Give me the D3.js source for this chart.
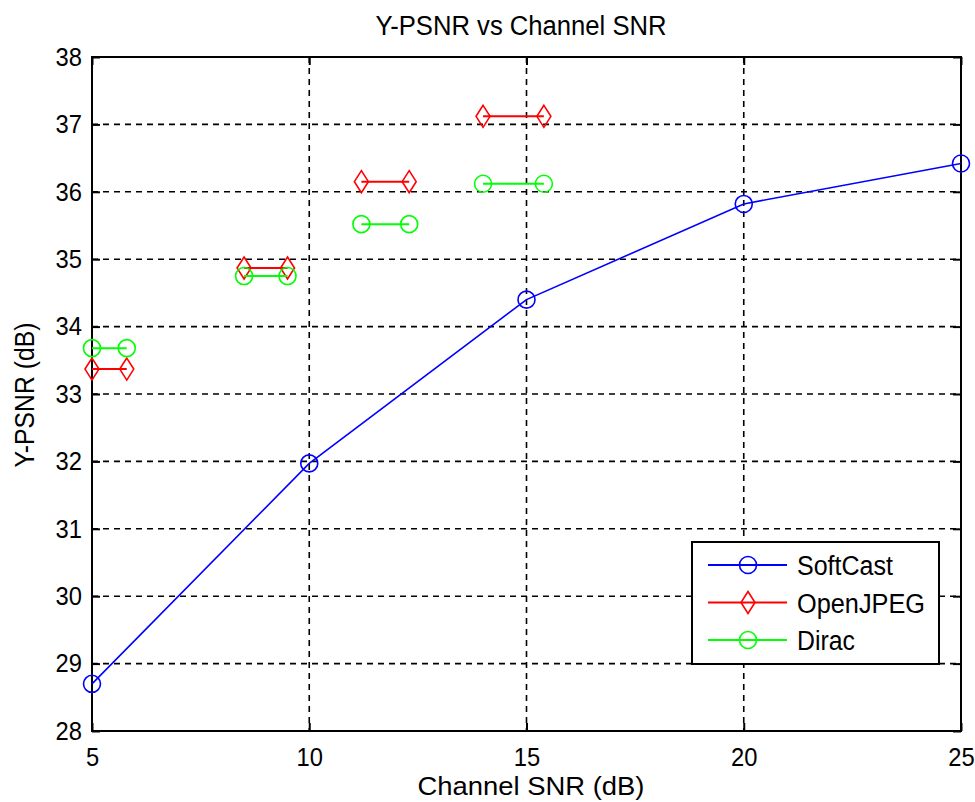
<!DOCTYPE html>
<html>
<head>
<meta charset="utf-8">
<script src="https://cdn.jsdelivr.net/npm/d3@7"></script>
<style>
  body { margin: 0; background: #fff; }
  text { font-family: "Liberation Sans", Arial, sans-serif; }
</style>
</head>
<body>
<svg id="chart" width="975" height="802"></svg>
<script>
// data
const snr = [5, 10, 15, 20, 25];
const softcast = [28.7, 31.97, 34.4, 35.82, 36.42];

// each codec is plotted as short horizontal segments (start, end, psnr)
const segStart = [5, 8.5, 11.2, 14];
const segEnd = [5.8, 9.5, 12.3, 15.4];
const openjpeg = [33.37, 34.87, 36.15, 37.12];
const dirac = [33.68, 34.75, 35.52, 36.12];

const xTicks = [5, 10, 15, 20, 25];
const yTicks = [28, 29, 30, 31, 32, 33, 34, 35, 36, 37, 38];

const series = [
  { name: "SoftCast", color: "#0000ff", marker: "circle" },
  { name: "OpenJPEG", color: "#ff0000", marker: "diamond" },
  { name: "Dirac", color: "#00ff00", marker: "circle" }
];

const svg = d3.select("#chart");
const m = { left: 92, top: 57, right: 961, bottom: 731 };

const x = d3.scaleLinear().domain([5, 25]).range([m.left, m.right]);
const y = d3.scaleLinear().domain([28, 38]).range([m.bottom, m.top]);

// the original text is a bit condensed, so squeeze it to the measured widths
function fit(sel, w) {
  sel.attr("textLength", w).attr("lengthAdjust", "spacingAndGlyphs");
}

// grid
const grid = svg.append("g");
xTicks.forEach(t => {
  grid.append("line")
    .attr("x1", x(t)).attr("x2", x(t))
    .attr("y1", m.top).attr("y2", m.bottom)
    .attr("stroke", "#000").attr("stroke-width", 1.6)
    .attr("stroke-dasharray", "6,5");
});
yTicks.forEach(t => {
  grid.append("line")
    .attr("x1", m.left).attr("x2", m.right)
    .attr("y1", y(t)).attr("y2", y(t))
    .attr("stroke", "#000").attr("stroke-width", 1.6)
    .attr("stroke-dasharray", "6,5");
});

// axes (ticks inside, on all four sides)
svg.append("g").attr("class", "xa").attr("transform", `translate(0,${m.bottom})`)
  .call(d3.axisBottom(x).tickValues(xTicks).tickSizeInner(-8).tickSizeOuter(0).tickPadding(17))
  .call(g => g.select(".domain").remove());
svg.append("g").attr("class", "ya").attr("transform", `translate(${m.left},0)`)
  .call(d3.axisLeft(y).tickValues(yTicks).tickSizeInner(-8).tickSizeOuter(0).tickPadding(10))
  .call(g => g.select(".domain").remove());
svg.append("g").attr("transform", `translate(0,${m.top})`)
  .call(d3.axisTop(x).tickValues(xTicks).tickSizeInner(-8).tickSizeOuter(0).tickFormat(""))
  .call(g => g.select(".domain").remove());
svg.append("g").attr("transform", `translate(${m.right},0)`)
  .call(d3.axisRight(y).tickValues(yTicks).tickSizeInner(-8).tickSizeOuter(0).tickFormat(""))
  .call(g => g.select(".domain").remove());
svg.selectAll(".tick line").attr("stroke", "#000").attr("stroke-width", 2);
svg.selectAll(".tick text")
  .style("font-size", "26px")
  .style("font-family", "'Liberation Sans', Arial, sans-serif")
  .attr("fill", "#000")
  .each(function () {
    const n = this.textContent.length;
    if (n) fit(d3.select(this), 13.2 * n);
  });

svg.append("rect")
  .attr("x", m.left).attr("y", m.top)
  .attr("width", m.right - m.left).attr("height", m.bottom - m.top)
  .attr("fill", "none").attr("stroke", "#000").attr("stroke-width", 2);

// markers
function marker(g, kind, cx, cy, color) {
  if (kind === "circle") {
    g.append("circle").attr("cx", cx).attr("cy", cy).attr("r", 8.5)
      .attr("fill", "none").attr("stroke", color).attr("stroke-width", 1.6);
  } else {
    g.append("path")
      .attr("d", `M${cx},${cy - 11}L${cx + 7},${cy}L${cx},${cy + 11}L${cx - 7},${cy}Z`)
      .attr("fill", "none").attr("stroke", color).attr("stroke-width", 1.6);
  }
}

const plot = svg.append("g");
const line = d3.line().x(d => x(d[0])).y(d => y(d[1]));

// softcast
const scPts = snr.map((s, i) => [s, softcast[i]]);
plot.append("path").attr("d", line(scPts))
  .attr("fill", "none").attr("stroke", series[0].color).attr("stroke-width", 1.6);
scPts.forEach(p => marker(plot, "circle", x(p[0]), y(p[1]), series[0].color));

// segments
[[openjpeg, series[1]], [dirac, series[2]]].forEach(([vals, s]) => {
  vals.forEach((v, i) => {
    const pts = [[segStart[i], v], [segEnd[i], v]];
    plot.append("path").attr("d", line(pts))
      .attr("fill", "none").attr("stroke", s.color).attr("stroke-width", 2);
    pts.forEach(p => marker(plot, s.marker, x(p[0]), y(p[1]), s.color));
  });
});

// titles
svg.append("text").attr("x", 521).attr("y", 35).attr("text-anchor", "middle")
  .style("font-size", "27px").text("Y-PSNR vs Channel SNR").call(fit, 291);
svg.append("text").attr("x", 531).attr("y", 795).attr("text-anchor", "middle")
  .style("font-size", "25px").text("Channel SNR (dB)").call(fit, 227);
svg.append("text").attr("transform", "translate(34,395) rotate(-90)").attr("text-anchor", "middle")
  .style("font-size", "27px").text("Y-PSNR (dB)").call(fit, 145);

// legend
const lg = svg.append("g");
lg.append("rect").attr("x", 692).attr("y", 542).attr("width", 247).attr("height", 122)
  .attr("fill", "#fff").attr("stroke", "#000").attr("stroke-width", 2);
const legendW = [96, 128, 58];
series.forEach((s, i) => {
  const ly = 565 + i * 37.5;
  lg.append("line").attr("x1", 708).attr("x2", 787).attr("y1", ly).attr("y2", ly)
    .attr("stroke", s.color).attr("stroke-width", 2);
  marker(lg, s.marker, 748, ly, s.color);
  lg.append("text").attr("x", 797).attr("y", ly + 10)
    .style("font-size", "27px").text(s.name).call(fit, legendW[i]);
});
</script>
</body>
</html>
